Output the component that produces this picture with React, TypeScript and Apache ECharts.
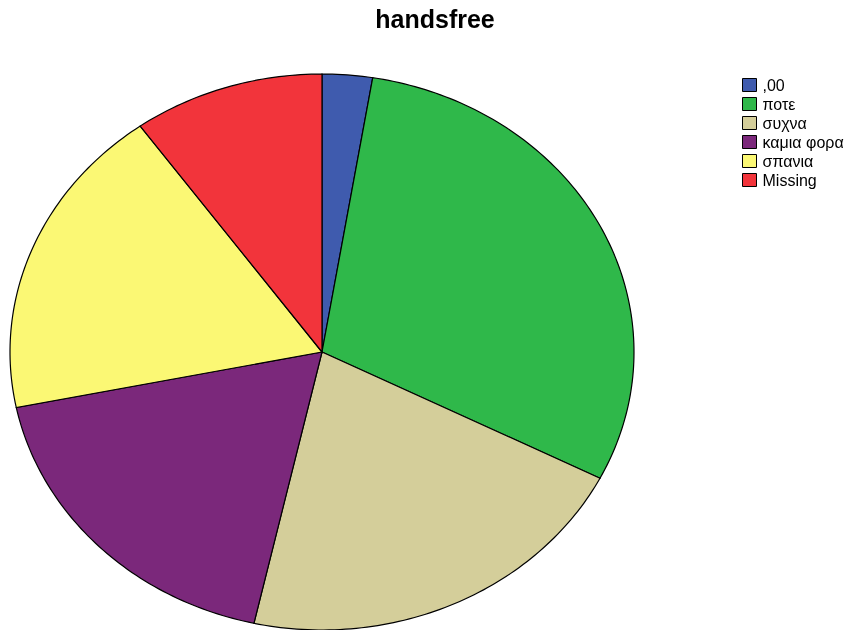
import React, { useEffect, useRef } from "react";
import * as echarts from "echarts";

const categories = [",00", "ποτε", "συχνα", "καμια φορα", "σπανια", "Missing"];
const values = [2.6, 29.9, 21.0, 18.3, 18.3, 9.9];
const colors = ["#3F5BAE", "#2FB84A", "#D4CE9A", "#7B287B", "#FBF874", "#F2343B"];

export default function App() {
  const ref = useRef<HTMLDivElement>(null);
  useEffect(() => {
    document.body.style.margin = "0";
    const chart = echarts.init(ref.current!, null, { renderer: "svg" });
    const total = values.reduce((a, b) => a + b, 0);
    const cum: number[] = [];
    let acc = 0;
    values.forEach((v) => {
      cum.push(acc);
      acc += v;
    });
    const cx = 322, cy = 352, rx = 312, ry = 278;
    const series = categories.map((name, i) => ({
      type: "custom",
      name,
      coordinateSystem: "none",
      data: [[values[i]]],
      itemStyle: { color: colors[i], borderColor: "#000", borderWidth: 1 },
      renderItem: (params: any, api: any) => {
        const v = api.value(0);
        const a0 = (cum[i] / total) * Math.PI * 2;
        const a1 = a0 + (v / total) * Math.PI * 2;
        const pts: number[][] = [[cx, cy]];
        const steps = Math.max(2, Math.ceil(((a1 - a0) * 180) / Math.PI));
        for (let k = 0; k <= steps; k++) {
          const t = a0 + ((a1 - a0) * k) / steps;
          pts.push([cx + rx * Math.sin(t), cy - ry * Math.cos(t)]);
        }
        return {
          type: "polygon",
          shape: { points: pts },
          style: { fill: colors[i], stroke: "#000", lineWidth: 1.2 },
        };
      },
    }));
    chart.setOption({
      animation: false,
      title: {
        text: "handsfree",
        left: 435,
        textAlign: "center",
        top: 6,
        padding: 0,
        textStyle: { fontFamily: "Liberation Sans, Arial", fontWeight: "bold", fontSize: 25, color: "#000" },
      },
      legend: {
        orient: "vertical",
        left: 742,
        top: 77,
        padding: 0,
        itemWidth: 14,
        itemHeight: 13,
        itemGap: 3,
        icon: "rect",
        data: categories,
        itemStyle: { borderColor: "#000", borderWidth: 1 },
        textStyle: { fontFamily: "Liberation Sans, Arial", fontSize: 16, color: "#000", padding: [0, 0, 0, 1] },
      },
      series,
    } as any);
    return () => chart.dispose();
  }, []);
  return <div ref={ref} style={{ position: "fixed", left: 0, top: 0, width: 852, height: 630 }} />;
}
